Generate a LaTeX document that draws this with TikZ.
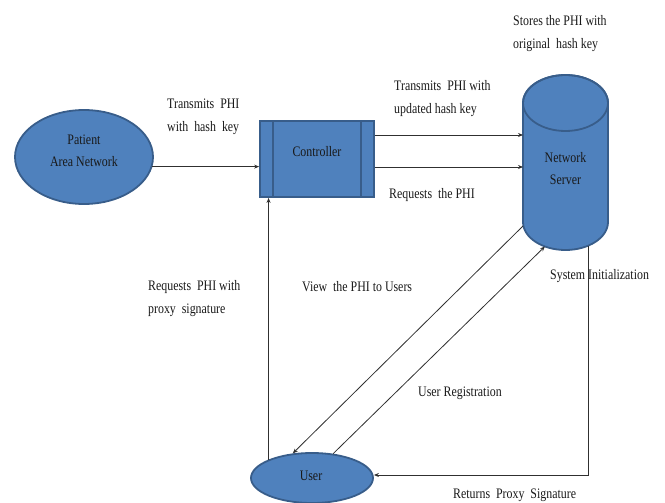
\documentclass[tikz,border=0pt]{standalone}
\usepackage{fontspec}
\setmainfont[FakeStretch=0.82]{Liberation Serif}
\usetikzlibrary{shapes.geometric,arrows.meta,calc}
\definecolor{nodefill}{HTML}{4F81BD}
\definecolor{nodeline}{HTML}{385D8A}
\definecolor{linec}{HTML}{303030}
\begin{document}
\begin{tikzpicture}[x=1pt,y=1pt,
  blob/.style={draw=nodeline, line width=1.8pt, fill=nodefill, inner sep=0pt},
  intext/.style={font=\fontsize{14.5}{22}\selectfont, align=center, inner sep=0pt, text=black!90},
  lbl/.style={font=\fontsize{14.5}{23}\selectfont, align=left, inner sep=0pt, anchor=west, text=black!90},
  arr/.style={draw=linec, line width=0.8pt, -{Stealth[length=5pt,width=4pt]}},
  ln/.style={draw=linec, line width=0.8pt}]
\useasboundingbox (0,0) rectangle (665,-503);

% Patient Area Network
\node[blob, ellipse, minimum width=138pt, minimum height=94pt] (pan) at (84,-157) {};
\node[intext] (pantext) at (84,-151) {Patient\\Area Network};

% Controller
\node[blob, rectangle, minimum width=114pt, minimum height=76pt] (ctrl) at (317,-159) {};
\draw[draw=nodeline, line width=1.8pt] ([xshift=14pt]ctrl.north west) -- ([xshift=14pt]ctrl.south west);
\draw[draw=nodeline, line width=1.8pt] ([xshift=-14pt]ctrl.north east) -- ([xshift=-14pt]ctrl.south east);
\node[intext] (ctrltext) at (317,-152) {Controller};

% Network Server cylinder
\coordinate (srvTop) at (565.5,-103);
\coordinate (srvBot) at (565.5,-222);
\filldraw[draw=nodeline, line width=1.8pt, fill=nodefill]
  (523,-103) -- (523,-222) arc[start angle=180, end angle=360, x radius=42.5pt, y radius=28pt]
  -- (608,-103) arc[start angle=0, end angle=180, x radius=42.5pt, y radius=28pt] -- cycle;
\draw[draw=nodeline, line width=1.8pt] (srvTop) ellipse [x radius=42.5pt, y radius=28pt];
\node[intext] (server) at (565.5,-168.5) {Network\\Server};
\coordinate (srvL) at (523,-159);
\coordinate (srvVL) at (523,-226);
\coordinate (srvUR) at ($(srvBot)+(241:42.5pt and 28pt)$);
\coordinate (srvSI) at ($(srvBot)+(302:42.5pt and 28pt)$);

% User
\node[blob, ellipse, minimum width=122pt, minimum height=50pt] (user) at (312,-478) {};
\node[intext] (usertext) at (311,-476) {User};

% Connectors
\draw[arr] (pan.-8.4) -- (ctrl.west |- pan.-8.4);
\draw[arr] ([yshift=24pt]ctrl.east) -- ([yshift=24pt]ctrl.east -| srvL);
\draw[arr] ([yshift=-8pt]ctrl.east) -- ([yshift=-8pt]ctrl.east -| srvL);
\draw[arr] (user.157.6) -- (user.157.6 |- ctrl.south);
\draw[arr] (srvVL) -- (user.128.6);
\draw[arr] (user.49.7) -- (srvUR);
\draw[arr] (srvSI) |- ([yshift=3pt]user.east);

% Labels
\node[lbl] (lstore) at (513,-33.5) {Stores the PHI with\\original\ \ hash key};
\node[lbl] (ltx1) at (167,-116.5) {Transmits\ \ PHI\\with\ \ hash\ \ key};
\node[lbl] (ltx2) at (394,-98.5) {Transmits\ \ PHI with\\updated hash key};
\node[lbl] (lreq) at (389,-195) {Requests\ \ the PHI};
\node[lbl] (lsys) at (550,-276) {System Initialization};
\node[lbl] (lproxy) at (148,-298.5) {Requests\ \ PHI with\\proxy\ \ signature};
\node[lbl] (lview) at (302,-287) {View\ \ the PHI to Users};
\node[lbl] (lreg) at (418,-393) {User Registration};
\node[lbl] (lret) at (453,-495) {Returns\ \ Proxy\ \ Signature};
\end{tikzpicture}
\end{document}
